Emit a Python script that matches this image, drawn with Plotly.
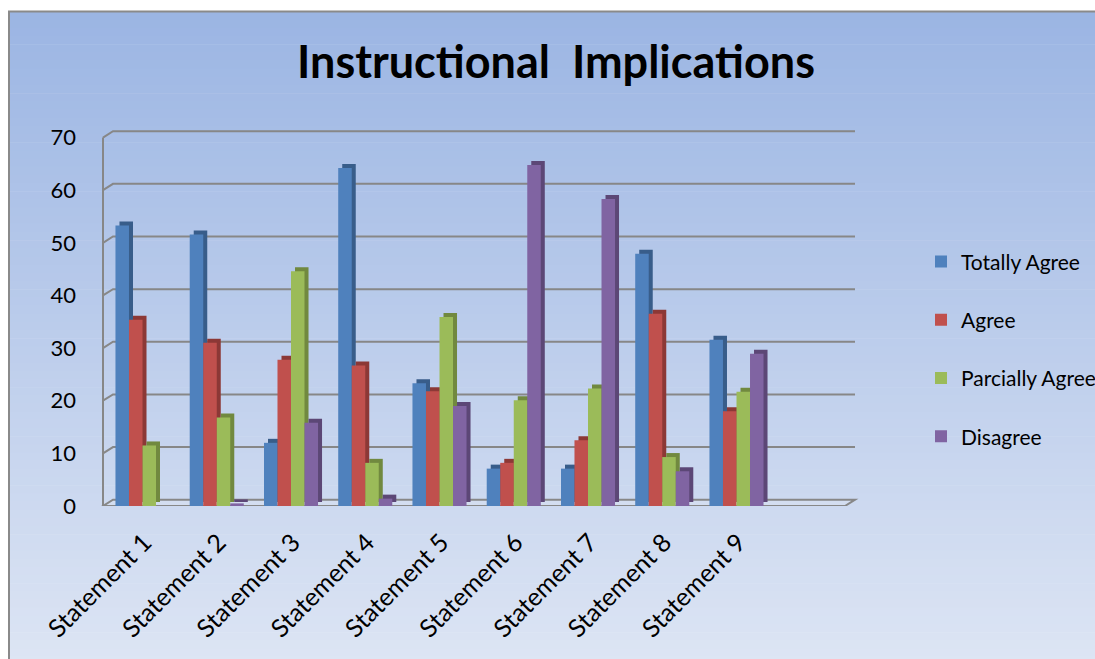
import plotly.graph_objects as go

categories = ["Statement 1", "Statement 2", "Statement 3", "Statement 4", "Statement 5",
              "Statement 6", "Statement 7", "Statement 8", "Statement 9"]
series_names = ["Totally Agree", "Agree", "Parcially Agree", "Disagree"]
totally_agree = [53.3, 51.6, 12.0, 64.2, 23.3, 7.1, 7.1, 47.9, 31.6]
agree = [35.4, 31.0, 27.8, 26.7, 21.8, 8.2, 12.5, 36.5, 18.0]
parcially_agree = [11.5, 16.8, 44.6, 8.2, 35.9, 20.1, 22.3, 9.3, 21.7]
disagree = [0.0, 0.5, 15.8, 1.4, 19.0, 64.8, 58.3, 6.6, 28.9]
y_ticks = [0, 10, 20, 30, 40, 50, 60, 70]

series_values = [totally_agree, agree, parcially_agree, disagree]
front_colors = ["#4f81bd", "#c0504d", "#9bbb59", "#8064a2"]
side_colors = ["#385d8a", "#8c3836", "#71893f", "#5c4776"]

W, H = 1095, 659
L_PX, R_PX, T_PX, B_PX = 103, 855, 126.6, 506
ml, mr, mt, mb = L_PX, W - R_PX, T_PX, H - B_PX
pw, ph = R_PX - L_PX, B_PX - T_PX

def px_x(px):
    return (px - L_PX) / pw

def px_y(py):
    return (B_PX - py) / ph

x_idx = list(range(len(categories)))
bw = 0.182
side_dx = 0.054
side_dy = 0.76

fig = go.Figure()
for i, (name, vals) in enumerate(zip(series_names, series_values)):
    off = -2 * bw - 0.027 + i * bw
    fig.add_trace(go.Bar(x=x_idx, y=vals, base=side_dy, width=bw, offset=off + side_dx,
                         marker=dict(color=side_colors[i], line=dict(width=0)),
                         showlegend=False, hoverinfo="skip", legendgroup=name))
    fig.add_trace(go.Bar(x=x_idx, y=vals, width=bw, offset=off, name=name,
                         legendgroup=name,
                         marker=dict(color=front_colors[i], line=dict(width=0))))

shapes = []
# background gradient
top_c = (155, 181, 227)
bot_c = (221, 229, 244)
y0px, y1px = 11, 665
N = 80
for k in range(N):
    a = y0px + (y1px - y0px) * k / N
    b = y0px + (y1px - y0px) * (k + 1) / N + 0.6
    t = (k + 0.5) / N
    c = tuple(round(top_c[j] + (bot_c[j] - top_c[j]) * t) for j in range(3))
    shapes.append(dict(type="rect", xref="paper", yref="paper", layer="below",
                       x0=px_x(9), x1=px_x(1100), y0=px_y(b), y1=px_y(a),
                       fillcolor="rgb(%d,%d,%d)" % c, line=dict(width=0)))
# chart border
shapes.append(dict(type="rect", xref="paper", yref="paper", layer="below",
                   x0=px_x(9), x1=px_x(1100), y0=px_y(670), y1=px_y(11),
                   fillcolor="rgba(0,0,0,0)", line=dict(color="#8a8a8a", width=2)))

gx = px_x(113)
gy = 1.2
grid_col = "#878787"
# floor
shapes.append(dict(type="path", xref="paper", yref="y", layer="below",
                   path="M 0,0 L %f,0 L 1,%f L %f,%f Z" % (px_x(845), gy, gx, gy),
                   fillcolor="rgba(215,224,240,0.6)", line=dict(color=grid_col, width=2)))
for v in y_ticks[1:]:
    shapes.append(dict(type="path", xref="paper", yref="y", layer="below",
                       path="M 0,%f L %f,%f L 1,%f" % (v, gx, v + gy, v + gy),
                       line=dict(color=grid_col, width=2)))
# left wall edge
shapes.append(dict(type="path", xref="paper", yref="y", layer="below",
                   path="M 0,0 L 0,%f" % y_ticks[-1], line=dict(color=grid_col, width=2)))

fig.update_layout(
    width=W, height=H,
    margin=dict(l=ml, r=mr, t=mt, b=mb, autoexpand=False),
    paper_bgcolor="white", plot_bgcolor="rgba(0,0,0,0)",
    barmode="overlay",
    shapes=shapes,
    font=dict(family="Lato, 'Open Sans', sans-serif", color="black"),
    title=dict(text="<b>Instructional\u00a0 Implications</b>", x=556 / W, xanchor="center",
               y=1 - 62 / H, yanchor="middle", xref="container", yref="container",
               font=dict(size=45, color="black", family="Lato, sans-serif")),
    xaxis=dict(range=[-0.559, 9.569], tickmode="array", tickvals=x_idx, ticktext=categories,
               tickangle=-45, showgrid=False, zeroline=False, showline=False,
               tickfont=dict(size=25), ticks="", ticklabelstandoff=16),
    yaxis=dict(range=[0, 72], tickmode="array", tickvals=y_ticks,
               showgrid=False, zeroline=False, showline=False, ticks="",
               tickfont=dict(size=22), ticklabelstandoff=26),
    legend=dict(x=px_x(921), xanchor="left", y=px_y(241), yanchor="top",
                bgcolor="rgba(0,0,0,0)", font=dict(size=21), tracegroupgap=28,
                traceorder="grouped"),
)
fig.write_html("out.html")
